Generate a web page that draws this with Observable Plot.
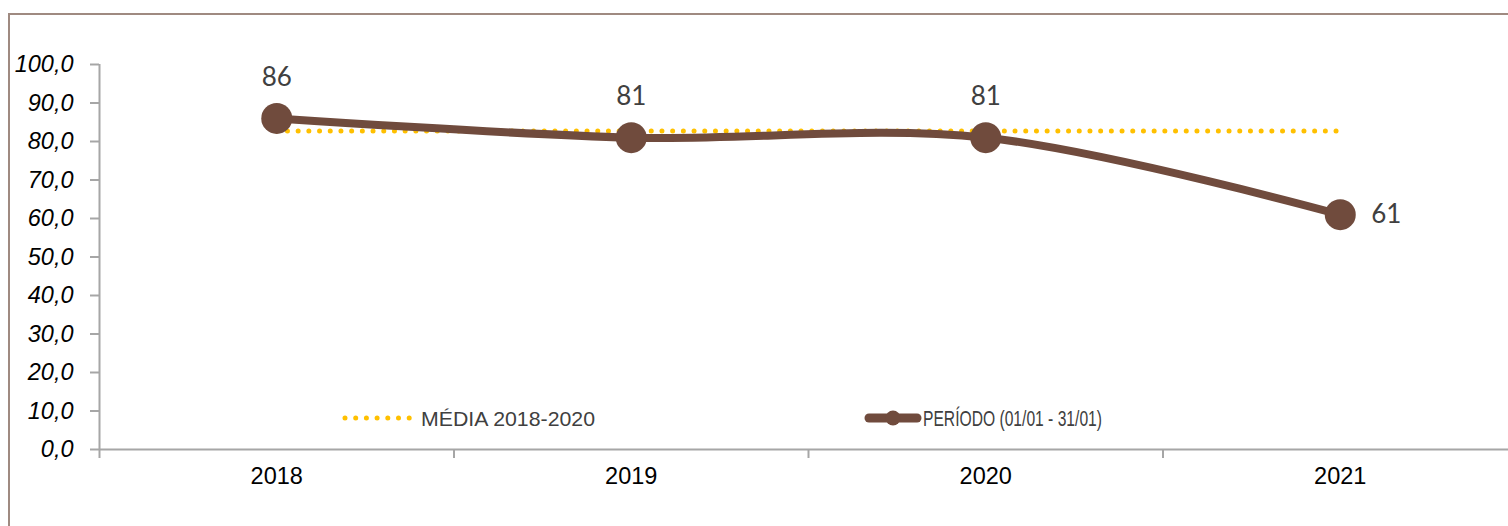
<!DOCTYPE html>
<html><head><meta charset="utf-8">
<script src="https://cdn.jsdelivr.net/npm/d3@7"></script>
<script src="https://cdn.jsdelivr.net/npm/@observablehq/plot@0.6"></script>
<style>
html,body{margin:0;padding:0;background:#fff;overflow:hidden;width:1508px;height:526px}
#wrap{position:relative;width:1508px;height:526px;overflow:hidden}
#frame{position:absolute;left:8px;top:13px;width:1600px;height:600px;border:2px solid #9f8a81;box-sizing:border-box}
#chart{position:absolute;left:0;top:0;width:1530px}
#chart svg{max-width:none !important;width:1530px;height:526px}
#legend{position:absolute;left:0;top:0}
.ylab text{font-style:italic}
</style>
</head><body>
<div id="wrap"><div id="frame"></div><div id="chart"></div><svg id="legend" width="1508" height="526"></svg></div>
<script>
const years = [2018, 2019, 2020, 2021];
const periodo = [86, 81, 81, 61];
const media = [82.7, 82.7, 82.7, 82.7];
const yTicks = [0, 10, 20, 30, 40, 50, 60, 70, 80, 90, 100];
const seriesNames = ["MÉDIA 2018-2020", "PERÍODO (01/01 - 31/01)"];

const brown = "#704b3d";
const gold = "#ffc000";
const axisGray = "#a6a6a6";
const boundaries = years.map(y => y - 0.5);

const chart = Plot.plot({
  width: 1530, height: 526,
  marginLeft: 99, marginRight: 13, marginTop: 64, marginBottom: 77,
  x: {domain: [years[0] - 0.5, years[years.length - 1] + 0.5]},
  y: {domain: [0, 100]},
  style: {fontFamily: "'Liberation Sans', Arial, sans-serif", background: "transparent", overflow: "visible", maxWidth: "none"},
  marks: [
    Plot.axisY({ticks: yTicks, tickSize: 9, tickPadding: 17, stroke: axisGray, strokeWidth: 2, fill: "#000", fontSize: 23.5,
      tickFormat: d => d.toFixed(1).replace(".", ","), className: "ylab"}),
    Plot.axisX({ticks: boundaries, tickSize: 9, tickFormat: () => "", stroke: axisGray, strokeWidth: 2}),
    Plot.axisX({ticks: years, tickSize: 0, tickPadding: 18, fill: "#000", fontSize: 23.5, tickFormat: d => String(d)}),
    Plot.ruleY([0], {stroke: axisGray, strokeWidth: 2}),
    Plot.ruleX([boundaries[0]], {stroke: axisGray, strokeWidth: 2}),
    Plot.line(media, {x: years, y: media, stroke: gold, strokeWidth: 5, strokeDasharray: "0,10.7", strokeLinecap: "round"}),
    Plot.line(periodo, {x: years, y: periodo, curve: "catmull-rom", stroke: brown, strokeWidth: 8, strokeLinecap: "round"}),
    Plot.dot(periodo, {x: years, y: periodo, r: 15.5, fill: brown}),
    Plot.text(periodo, {x: years, y: periodo, text: d => String(d), filter: (d, i) => i < periodo.length - 1,
      dy: -41, fill: "#404040", fontSize: 26, fontWeight: 400, fontFamily: "Lato, 'DejaVu Sans', sans-serif"}),
    Plot.text(periodo, {x: years, y: periodo, text: d => String(d), filter: (d, i) => i === periodo.length - 1,
      dx: 31, textAnchor: "start", fill: "#404040", fontSize: 26, fontWeight: 400, fontFamily: "Lato, 'DejaVu Sans', sans-serif"})
  ]
});
document.getElementById("chart").appendChild(chart);

// legend
const lg = d3.select("#legend");
const ly = 418;
// MÉDIA entry
lg.append("line").attr("x1", 345).attr("x2", 410).attr("y1", ly).attr("y2", ly)
  .attr("stroke", gold).attr("stroke-width", 5).attr("stroke-dasharray", "0,10.7").attr("stroke-linecap", "round");
lg.append("text").attr("x", 421).attr("y", ly).attr("dy", "0.36em").text(seriesNames[0])
  .attr("font-family", "'Liberation Sans', Arial, sans-serif").attr("font-size", 21).attr("fill", "#404040")
  .attr("textLength", 174).attr("lengthAdjust", "spacingAndGlyphs");
// PERÍODO entry
lg.append("line").attr("x1", 869).attr("x2", 917).attr("y1", ly).attr("y2", ly)
  .attr("stroke", brown).attr("stroke-width", 9).attr("stroke-linecap", "round");
lg.append("circle").attr("cx", 893).attr("cy", ly).attr("r", 7.5).attr("fill", brown);
lg.append("text").attr("x", 923).attr("y", ly).attr("dy", "0.36em").text(seriesNames[1])
  .attr("font-family", "'Liberation Sans Narrow', 'Liberation Sans', Arial, sans-serif").attr("font-size", 22).attr("fill", "#404040")
  .attr("textLength", 179).attr("lengthAdjust", "spacingAndGlyphs");
</script>
</body></html>
